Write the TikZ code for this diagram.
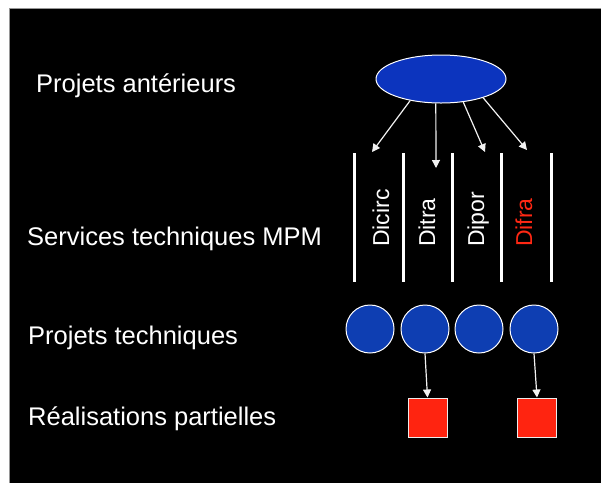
\documentclass[tikz,border=0pt]{standalone}
\usepackage{fontspec}
\setmainfont{Liberation Sans}
\usetikzlibrary{arrows.meta,shapes.geometric}
\definecolor{ellblue}{RGB}{12,52,190}
\definecolor{cirblue}{RGB}{14,62,178}
\definecolor{boxred}{RGB}{255,36,16}
\definecolor{difred}{RGB}{255,40,20}
\definecolor{framegray}{RGB}{150,150,150}
\tikzset{
  lbl/.style={text=white,font=\fontsize{25.5}{30}\selectfont,anchor=base west,inner sep=0pt},
  vlbl/.style={font=\fontsize{23}{28}\selectfont,rotate=90,anchor=base west,inner sep=0pt},
  col/.style={draw=white,line width=3pt},
  proj/.style={circle,draw=white,line width=1pt,fill=cirblue,minimum size=48pt,inner sep=0pt},
  real/.style={rectangle,draw=white!85!gray,line width=1pt,fill=boxred,minimum size=39pt,inner sep=0pt},
  arr/.style={draw=white!90!gray,line width=1.2pt,-{Triangle[width=8pt,length=8pt]}}
}
\begin{document}
\begin{tikzpicture}[x=1pt,y=-1pt]
\useasboundingbox (0,0) rectangle (601,483);
\fill[white] (0,0) rectangle (601,483);
\fill[black] (9,8) rectangle (601,483);
\draw[framegray,line width=1pt] (9,483) -- (9,8) -- (601,8);
% left labels
\node[lbl] (t1) at (36,92) {Projets antérieurs};
\node[lbl] (t2) at (27,245) {Services techniques MPM};
\node[lbl] (t3) at (28,344) {Projets techniques};
\node[lbl] (t4) at (28,425) {Réalisations partielles};
% ellipse
\node[ellipse,draw=white,line width=1pt,fill=ellblue,minimum width=130pt,minimum height=48pt,inner sep=0pt] (pa) at (441,79) {};
% columns
\foreach \x in {354,403,452,501,551} \draw[col] (\x,153) -- (\x,282);
\node[vlbl,text=white] (s1) at (389,247) {Dicirc};
\node[vlbl,text=white] (s2) at (435,247) {Ditra};
\node[vlbl,text=white] (s3) at (484,247) {Dipor};
\node[vlbl,text=difred] (s4) at (532,247) {Difra};
% arrows from ellipse
\coordinate (e1) at (372,152);
\coordinate (e2) at (436,168);
\coordinate (e3) at (485,152);
\coordinate (e4) at (527,150);
\draw[arr] (pa.215) -- (e1);
\draw[arr] (pa.258) -- (e2);
\draw[arr] (pa.314) -- (e3);
\draw[arr] (pa.336) -- (e4);
% projects
\node[proj] (c1) at (370,329) {};
\node[proj] (c2) at (425,329) {};
\node[proj] (c3) at (479,329) {};
\node[proj] (c4) at (534,329) {};
% realisations
\node[real] (r1) at (427.5,417.5) {};
\node[real] (r2) at (537,417.5) {};
\draw[arr] (c2.south) -- (r1.north);
\draw[arr] (c4.south) -- (r2.north);
\end{tikzpicture}
\end{document}
